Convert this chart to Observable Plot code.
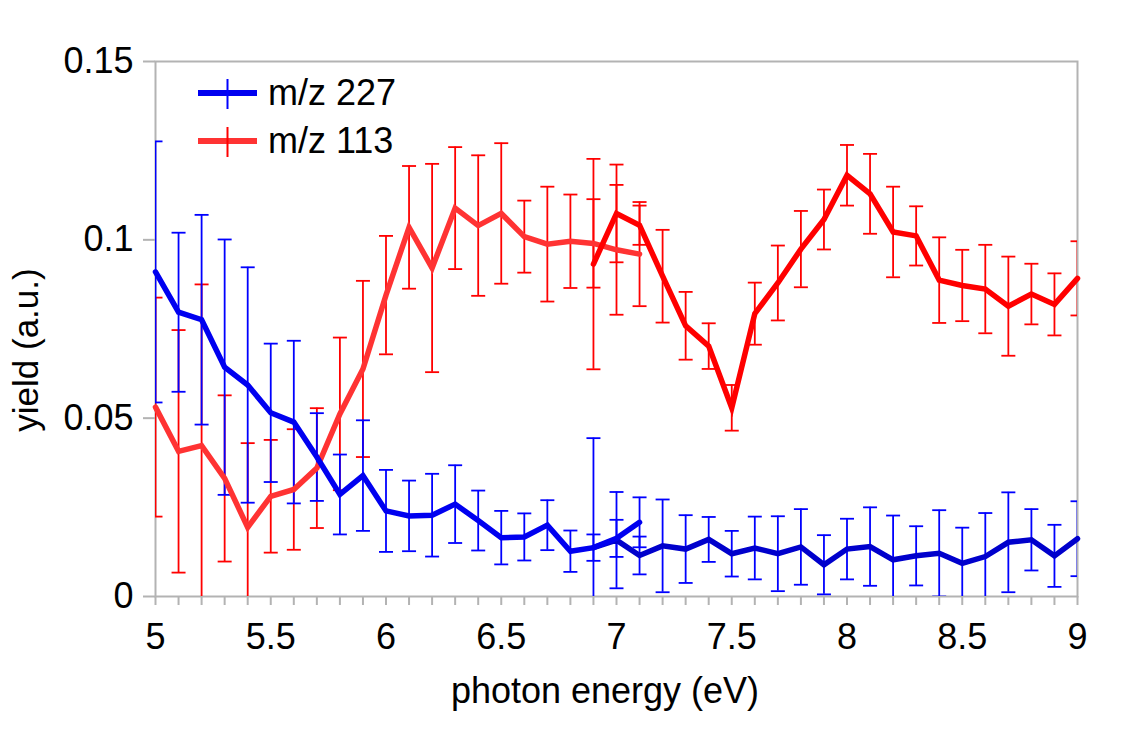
<!DOCTYPE html>
<html>
<head>
<meta charset="utf-8">
<script src="https://cdn.jsdelivr.net/npm/d3@7"></script>
<script src="https://cdn.jsdelivr.net/npm/@observablehq/plot@0.6"></script>
<style>
  body { margin: 0; background: #fff; }
  #chart { width: 1121px; height: 735px; }
</style>
</head>
<body>
<div id="chart"></div>
<script>
// ---- data ----
const energyA = [5.0, 5.1, 5.2, 5.3, 5.4, 5.5, 5.6, 5.7, 5.8, 5.9, 6.0, 6.1, 6.2, 6.3, 6.4, 6.5, 6.6, 6.7, 6.8, 6.9, 7.0, 7.1];
const energyB = [6.9, 7.0, 7.1, 7.2, 7.3, 7.4, 7.5, 7.6, 7.7, 7.8, 7.9, 8.0, 8.1, 8.2, 8.3, 8.4, 8.5, 8.6, 8.7, 8.8, 8.9, 9.0];

const mz227A    = [0.0910, 0.0797, 0.0776, 0.0643, 0.0593, 0.0515, 0.0489, 0.0391, 0.0286, 0.0339, 0.0240, 0.0226, 0.0228, 0.0259, 0.0213, 0.0165, 0.0167, 0.0200, 0.0127, 0.0137, 0.0163, 0.0208];
const mz227AErr = [0.0366, 0.0223, 0.0294, 0.0358, 0.0330, 0.0194, 0.0228, 0.0123, 0.0112, 0.0155, 0.0115, 0.0099, 0.0116, 0.0109, 0.0084, 0.0075, 0.0066, 0.0070, 0.0058, 0.0037, 0.0052, 0.0070];
const mz227B    = [0.0137, 0.0158, 0.0115, 0.0142, 0.0133, 0.0160, 0.0120, 0.0136, 0.0120, 0.0139, 0.0089, 0.0133, 0.0140, 0.0103, 0.0114, 0.0121, 0.0093, 0.0112, 0.0152, 0.0159, 0.0114, 0.0162];
const mz227BErr = [0.0307, 0.0135, 0.0053, 0.0130, 0.0095, 0.0063, 0.0064, 0.0088, 0.0105, 0.0106, 0.0083, 0.0085, 0.0110, 0.0124, 0.0083, 0.0121, 0.0100, 0.0122, 0.0140, 0.0086, 0.0087, 0.0105];

const mz113A    = [0.0531, 0.0407, 0.0423, 0.0331, 0.0194, 0.0281, 0.0300, 0.0360, 0.0512, 0.0638, 0.0845, 0.1035, 0.0921, 0.1089, 0.1040, 0.1074, 0.1009, 0.0988, 0.0996, 0.0990, 0.0972, 0.0960];
const mz113AErr = [0.0307, 0.0340, 0.0452, 0.0233, 0.0236, 0.0158, 0.0169, 0.0168, 0.0214, 0.0247, 0.0166, 0.0172, 0.0292, 0.0171, 0.0197, 0.0197, 0.0101, 0.0161, 0.0131, 0.0124, 0.0182, 0.0146];
const mz113B    = [0.0932, 0.1074, 0.1041, 0.0898, 0.0759, 0.0702, 0.0529, 0.0793, 0.0879, 0.0974, 0.1057, 0.1181, 0.1129, 0.1022, 0.1011, 0.0887, 0.0872, 0.0862, 0.0814, 0.0848, 0.0819, 0.0892];
const mz113BErr = [0.0295, 0.0137, 0.0055, 0.0130, 0.0095, 0.0064, 0.0064, 0.0087, 0.0105, 0.0107, 0.0084, 0.0085, 0.0112, 0.0127, 0.0083, 0.0120, 0.0100, 0.0124, 0.0139, 0.0085, 0.0087, 0.0104];

const seriesNames = ["m/z 227", "m/z 113"];
const xTicks = [5, 5.5, 6, 6.5, 7, 7.5, 8, 8.5, 9];
const xTickLabels = ["5", "5.5", "6", "6.5", "7", "7.5", "8", "8.5", "9"];
const yTicks = [0, 0.05, 0.1, 0.15];
const yTickLabels = ["0", "0.05", "0.1", "0.15"];
const xTitle = "photon energy (eV)";
const yTitle = "yield (a.u.)";

// ---- styles ----
const FONT = "'Liberation Sans', Arial, sans-serif";
const GRID = "#b3b3b3";
const lineColors = {blueA: "#0000f0", blueB: "#0000cc", redA: "#ff3333", redB: "#ff0000"};
const barColors = {blue: "#0000ff", red: "#ff0000"};

const rows = (xs, ys, es) => xs.map((x, i) => ({x, y: ys[i], e: es[i]}));
const blueA = rows(energyA, mz227A, mz227AErr);
const blueB = rows(energyB, mz227B, mz227BErr);
const redA = rows(energyA, mz113A, mz113AErr);
const redB = rows(energyB, mz113B, mz113BErr);

const minorTicks = d3.range(50, 91).map(d => d / 10);
const xLab = new Map(xTicks.map((t, i) => [t, xTickLabels[i]]));
const yLab = new Map(yTicks.map((t, i) => [t, yTickLabels[i]]));

const capSymbol = {draw(ctx) { ctx.moveTo(-7, 0); ctx.lineTo(7, 0); }};

function errorMarks(data, color) {
  return [
    Plot.ruleX(data, {x: "x", y1: d => d.y - d.e, y2: d => d.y + d.e, stroke: color, strokeWidth: 1.8, clip: true}),
    Plot.dot(data, {x: "x", y: d => d.y + d.e, symbol: capSymbol, r: 7, fill: "none", stroke: color, strokeWidth: 1.8, clip: true}),
    Plot.dot(data, {x: "x", y: d => d.y - d.e, symbol: capSymbol, r: 7, fill: "none", stroke: color, strokeWidth: 1.8, clip: true})
  ];
}
const lineMark = (data, color) => Plot.line(data, {x: "x", y: "y", stroke: color, strokeWidth: 5.5, strokeLinejoin: "miter", strokeMiterlimit: 4});

const plot = Plot.plot({
  width: 1121,
  height: 735,
  marginLeft: 155,
  marginRight: 44,
  marginTop: 61,
  marginBottom: 139,
  x: {domain: [5, 9]},
  y: {domain: [0, 0.15]},
  style: {fontFamily: FONT, fontSize: "36px", background: "#fff", color: "#000"},
  marks: [
    Plot.axisX(minorTicks, {tickSize: 9, tickFormat: () => "", stroke: GRID, strokeWidth: 2, label: null}),
    Plot.axisX(xTicks, {tickSize: 0, tickPadding: 27, tickFormat: d => xLab.get(d), label: null}),
    Plot.axisY(yTicks, {tickSize: 12, tickPadding: 10, stroke: GRID, strokeWidth: 2, tickFormat: d => yLab.get(d), label: null}),
    Plot.frame({stroke: GRID, strokeWidth: 2}),
    ...errorMarks(redA, barColors.red),
    ...errorMarks(redB, barColors.red),
    ...errorMarks(blueA, barColors.blue),
    ...errorMarks(blueB, barColors.blue),
    lineMark(redA, lineColors.redA),
    lineMark(redB, lineColors.redB),
    lineMark(blueB, lineColors.blueB),
    lineMark(blueA, lineColors.blueA)
  ]
});

const svg = d3.select(plot);
// axis titles
svg.append("text").attr("x", 605).attr("y", 703).attr("text-anchor", "middle")
  .attr("font-family", FONT).attr("font-size", 36).attr("fill", "#000").text(xTitle);
svg.append("text").attr("transform", "translate(38,350) rotate(-90)").attr("text-anchor", "middle")
  .attr("font-family", FONT).attr("font-size", 35).attr("fill", "#000").text(yTitle);

// legend
const legendItems = [
  {name: seriesNames[0], line: lineColors.blueA, bar: barColors.blue, cy: 93},
  {name: seriesNames[1], line: lineColors.redA, bar: barColors.red, cy: 141}
];
const lg = svg.append("g");
legendItems.forEach(it => {
  lg.append("line").attr("x1", 198).attr("x2", 257).attr("y1", it.cy).attr("y2", it.cy)
    .attr("stroke", it.line).attr("stroke-width", 6);
  lg.append("line").attr("x1", 227.5).attr("x2", 227.5).attr("y1", it.cy - 14).attr("y2", it.cy + 16)
    .attr("stroke", it.bar).attr("stroke-width", 2);
  lg.append("text").attr("x", 268).attr("y", it.cy + 12).attr("text-anchor", "start")
    .attr("font-family", FONT).attr("font-size", 36).attr("fill", "#000").text(it.name);
});

document.getElementById("chart").appendChild(plot);
</script>
</body>
</html>
